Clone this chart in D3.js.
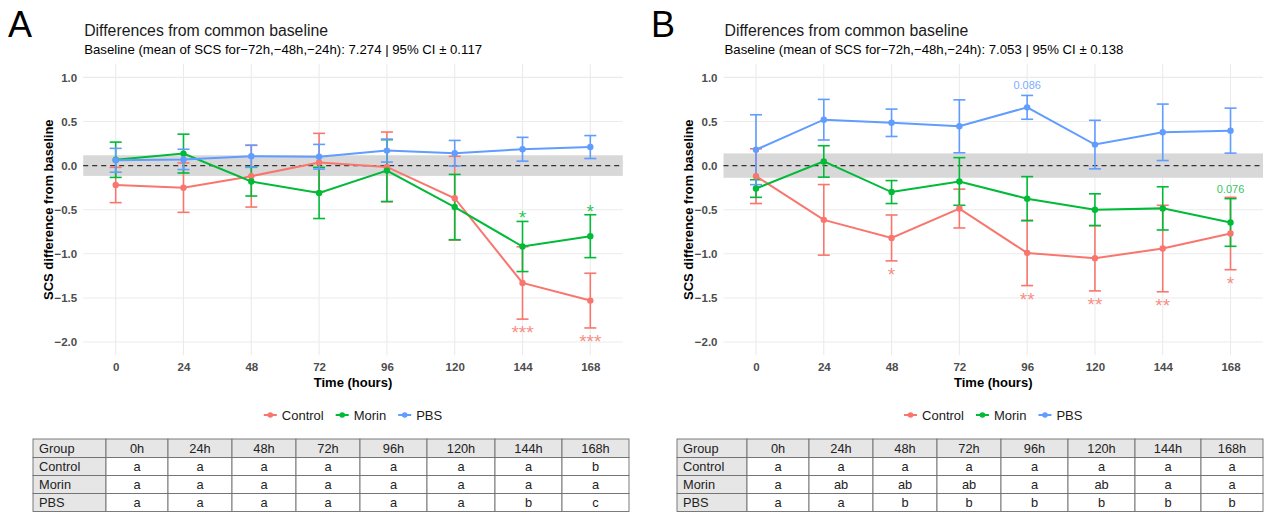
<!DOCTYPE html>
<html>
<head>
<meta charset="utf-8">
<script src="https://cdn.jsdelivr.net/npm/d3@7"></script>
<style>
  html, body { margin: 0; padding: 0; background: #ffffff; }
  svg { display: block; }
</style>
</head>
<body>
<script>
// ---- shared categories ----
const hours = [0, 24, 48, 72, 96, 120, 144, 168];
const groupNames = ["Control", "Morin", "PBS"];
const groupColors = ["#F8766D", "#00BA38", "#619CFF"];
const yTicks = [1.0, 0.5, 0.0, -0.5, -1.0, -1.5, -2.0];

// ---- panel A: mean difference from baseline and 95% CI half-width ----
const controlMeanA = [-0.22, -0.25, -0.12, 0.035, -0.015, -0.37, -1.33, -1.53];
const controlErrA  = [0.20, 0.28, 0.35, 0.33, 0.395, 0.475, 0.41, 0.31];
const morinMeanA   = [0.066, 0.136, -0.18, -0.31, -0.057, -0.47, -0.917, -0.80];
const morinErrA    = [0.20, 0.22, 0.165, 0.29, 0.35, 0.37, 0.284, 0.243];
const pbsMeanA     = [0.06, 0.07, 0.105, 0.10, 0.17, 0.14, 0.185, 0.21];
const pbsErrA      = [0.135, 0.115, 0.125, 0.14, 0.13, 0.145, 0.135, 0.13];
const baselineA = "7.274";
const baselineCIA = 0.117;

// ---- panel B ----
const controlMeanB = [-0.12, -0.615, -0.82, -0.487, -0.99, -1.05, -0.94, -0.77];
const controlErrB  = [0.31, 0.40, 0.26, 0.22, 0.37, 0.37, 0.49, 0.41];
const morinMeanB   = [-0.26, 0.047, -0.30, -0.18, -0.375, -0.50, -0.485, -0.645];
const morinErrB    = [0.10, 0.178, 0.13, 0.27, 0.25, 0.18, 0.245, 0.27];
const pbsMeanB     = [0.18, 0.52, 0.485, 0.445, 0.66, 0.238, 0.377, 0.396];
const pbsErrB      = [0.396, 0.23, 0.155, 0.30, 0.135, 0.275, 0.32, 0.255];
const baselineB = "7.053";
const baselineCIB = 0.138;

// ---- significance marks placed at the end of an error bar ----
const marksA = [
  { group: "Morin",   hour: 144, text: "*",   side: "above" },
  { group: "Morin",   hour: 168, text: "*",   side: "above" },
  { group: "Control", hour: 144, text: "***", side: "below" },
  { group: "Control", hour: 168, text: "***", side: "below" }
];
const marksB = [
  { group: "PBS",     hour: 96,  text: "0.086", side: "above" },
  { group: "Morin",   hour: 168, text: "0.076", side: "above" },
  { group: "Control", hour: 48,  text: "*",  side: "below" },
  { group: "Control", hour: 96,  text: "**", side: "below" },
  { group: "Control", hour: 120, text: "**", side: "below" },
  { group: "Control", hour: 144, text: "**", side: "below" },
  { group: "Control", hour: 168, text: "*",  side: "below" }
];

// ---- letter tables ----
const tableHeader = ["Group", "0h", "24h", "48h", "72h", "96h", "120h", "144h", "168h"];
const lettersControlA = ["a", "a", "a", "a", "a", "a", "a", "b"];
const lettersMorinA   = ["a", "a", "a", "a", "a", "a", "a", "a"];
const lettersPbsA     = ["a", "a", "a", "a", "a", "a", "b", "c"];
const lettersControlB = ["a", "a", "a", "a", "a", "a", "a", "a"];
const lettersMorinB   = ["a", "ab", "ab", "ab", "a", "ab", "a", "a"];
const lettersPbsB     = ["a", "a", "b", "b", "b", "b", "b", "b"];

const W = 1266, H = 513;
const FONT = "'Liberation Sans', Arial, Helvetica, sans-serif";

const svg = d3.select("body").append("svg")
  .attr("width", W).attr("height", H)
  .style("font-family", FONT);

const measureCtx = document.createElement("canvas").getContext("2d");
function measure(str, size) {
  measureCtx.font = `${size}px ${FONT}`;
  return measureCtx.measureText(str).width;
}

function drawPanel(cfg) {
  const g = svg.append("g");
  const x = d3.scaleLinear().domain([-11.5, 179.5]).range(cfg.xRange);
  const y = d3.scaleLinear().domain([-2.15, 1.15]).range([355.3, 64.1]);
  const [x0, x1] = x.range();
  const [yb, yt] = y.range();

  // panel letter, title, subtitle
  g.append("text").attr("x", cfg.letterX).attr("y", 37)
    .attr("font-size", 36).attr("fill", "#000").text(cfg.letter);
  g.append("text").attr("x", x0 + 1).attr("y", 36)
    .attr("font-size", 15.8).attr("fill", "#1a1a1a")
    .text("Differences from common baseline");
  g.append("text").attr("x", x0 + 1).attr("y", 54)
    .attr("font-size", 13.2).attr("fill", "#000")
    .text(`Baseline (mean of SCS for\u221272h,\u221248h,\u221224h): ${cfg.baseline} | 95% CI \u00b1 ${cfg.ci}`);

  // grid
  g.append("g").selectAll("line").data(yTicks).join("line")
    .attr("x1", x0).attr("x2", x1)
    .attr("y1", d => y(d)).attr("y2", d => y(d))
    .attr("stroke", "#EBEBEB").attr("stroke-width", 1.1);
  g.append("g").selectAll("line").data(hours).join("line")
    .attr("x1", d => x(d)).attr("x2", d => x(d))
    .attr("y1", yt).attr("y2", yb)
    .attr("stroke", "#EBEBEB").attr("stroke-width", 1.1);

  // baseline confidence band and reference line
  g.append("rect")
    .attr("x", x0).attr("width", x1 - x0)
    .attr("y", y(cfg.ci)).attr("height", y(-cfg.ci) - y(cfg.ci))
    .attr("fill", "#D6D6D6").attr("opacity", 0.95);
  g.append("line")
    .attr("x1", x0).attr("x2", x1).attr("y1", y(0)).attr("y2", y(0))
    .attr("stroke", "#333").attr("stroke-width", 1.1)
    .attr("stroke-dasharray", "5,4");

  // axes
  const yAxis = g.append("g").attr("transform", `translate(${x0},0)`)
    .call(d3.axisLeft(y).tickValues(yTicks).tickFormat(d3.format(".1f"))
      .tickSize(0).tickPadding(6));
  const xAxis = g.append("g").attr("transform", `translate(0,${yb})`)
    .call(d3.axisBottom(x).tickValues(hours).tickFormat(d3.format("d"))
      .tickSize(0).tickPadding(7.5));
  [yAxis, xAxis].forEach(a => {
    a.select(".domain").remove();
    a.selectAll("text").attr("font-size", 11.5).attr("font-weight", "bold")
      .attr("fill", "#4D4D4D").attr("font-family", FONT);
  });

  g.append("text")
    .attr("transform", `translate(${cfg.yTitleX},${(yt + yb) / 2}) rotate(-90)`)
    .attr("text-anchor", "middle").attr("dominant-baseline", "central")
    .attr("font-size", 13).attr("font-weight", "bold").attr("fill", "#000")
    .text("SCS difference from baseline");
  g.append("text")
    .attr("x", (x0 + x1) / 2).attr("y", 382)
    .attr("text-anchor", "middle").attr("dominant-baseline", "central")
    .attr("font-size", 13).attr("font-weight", "bold").attr("fill", "#000")
    .text("Time (hours)");

  // series
  const series = groupNames.map((name, i) => ({
    name, color: groupColors[i],
    pts: hours.map((h, j) => ({ h, m: cfg.means[i][j], e: cfg.errs[i][j] }))
  }));

  const cap = 6;
  const eb = g.append("g");
  series.forEach(s => {
    const sg = eb.append("g").attr("stroke", s.color).attr("stroke-width", 1.6).attr("fill", "none");
    sg.selectAll(".v").data(s.pts).join("line")
      .attr("x1", d => x(d.h)).attr("x2", d => x(d.h))
      .attr("y1", d => y(d.m + d.e)).attr("y2", d => y(d.m - d.e));
    sg.selectAll(".t").data(s.pts).join("line")
      .attr("x1", d => x(d.h) - cap).attr("x2", d => x(d.h) + cap)
      .attr("y1", d => y(d.m + d.e)).attr("y2", d => y(d.m + d.e));
    sg.selectAll(".b").data(s.pts).join("line")
      .attr("x1", d => x(d.h) - cap).attr("x2", d => x(d.h) + cap)
      .attr("y1", d => y(d.m - d.e)).attr("y2", d => y(d.m - d.e));
  });
  const line = d3.line().x(d => x(d.h)).y(d => y(d.m));
  series.forEach(s => {
    g.append("path").datum(s.pts).attr("d", line)
      .attr("fill", "none").attr("stroke", s.color).attr("stroke-width", 2);
  });
  series.forEach(s => {
    g.append("g").selectAll("circle").data(s.pts).join("circle")
      .attr("cx", d => x(d.h)).attr("cy", d => y(d.m)).attr("r", 3.2)
      .attr("fill", s.color);
  });

  // significance marks
  cfg.marks.forEach(mk => {
    const i = groupNames.indexOf(mk.group);
    const j = hours.indexOf(mk.hour);
    const m = cfg.means[i][j], e = cfg.errs[i][j];
    const isStar = mk.text.startsWith("*");
    let yy;
    if (mk.side === "above") yy = y(m + e) - (isStar ? -3 : 6);
    else yy = y(m - e) + 20;
    g.append("text").attr("x", x(mk.hour)).attr("y", yy)
      .attr("text-anchor", "middle")
      .attr("font-size", isStar ? 19 : 11)
      .attr("fill", groupColors[i]).attr("fill-opacity", 0.85)
      .text(mk.text);
  });

  // legend
  const lg = g.append("g");
  const items = [];
  let cursor = 0;
  groupNames.forEach((name, i) => {
    items.push({ name, color: groupColors[i], x: cursor });
    cursor += 18 + measure(name, 13) + 12;
  });
  const totalW = cursor - 12;
  const lx = (x0 + x1) / 2 - totalW / 2;
  items.forEach(it => {
    const gi = lg.append("g").attr("transform", `translate(${lx + it.x},415)`);
    gi.append("line").attr("x1", 0).attr("x2", 13).attr("y1", 0).attr("y2", 0)
      .attr("stroke", it.color).attr("stroke-width", 2);
    gi.append("circle").attr("cx", 6.5).attr("cy", 0).attr("r", 2.8).attr("fill", it.color);
    gi.append("text").attr("x", 18).attr("y", 0).attr("dominant-baseline", "central")
      .attr("font-size", 13).attr("fill", "#1a1a1a").text(it.name);
  });

  // letter table
  const tg = g.append("g").attr("font-size", 12.8).attr("fill", "#222");
  const cols = cfg.tableCols;
  const rowsY = [439, 457.5, 475.5, 493.5, 511.5];
  const rows = [tableHeader,
    ["Control"].concat(cfg.letters[0]),
    ["Morin"].concat(cfg.letters[1]),
    ["PBS"].concat(cfg.letters[2])];
  rows.forEach((row, r) => {
    row.forEach((cell, c) => {
      const shaded = r === 0 || c === 0;
      tg.append("rect")
        .attr("x", cols[c]).attr("y", rowsY[r])
        .attr("width", cols[c + 1] - cols[c]).attr("height", rowsY[r + 1] - rowsY[r])
        .attr("fill", shaded ? "#E6E6E6" : "#ffffff")
        .attr("stroke", "#6E6E6E").attr("stroke-width", 0.9);
      tg.append("text")
        .attr("x", c === 0 ? cols[c] + 6 : (cols[c] + cols[c + 1]) / 2)
        .attr("y", (rowsY[r] + rowsY[r + 1]) / 2)
        .attr("dominant-baseline", "central")
        .attr("text-anchor", c === 0 ? "start" : "middle")
        .text(cell);
    });
  });
}

drawPanel({
  letter: "A", letterX: 8, xRange: [83.2, 622.8], yTitleX: 48,
  baseline: baselineA, ci: baselineCIA,
  means: [controlMeanA, morinMeanA, pbsMeanA],
  errs: [controlErrA, morinErrA, pbsErrA],
  marks: marksA,
  tableCols: [33, 106, 168, 232, 296, 360, 427, 495, 562, 629],
  letters: [lettersControlA, lettersMorinA, lettersPbsA]
});
drawPanel({
  letter: "B", letterX: 651, xRange: [723.5, 1263], yTitleX: 688,
  baseline: baselineB, ci: baselineCIB,
  means: [controlMeanB, morinMeanB, pbsMeanB],
  errs: [controlErrB, morinErrB, pbsErrB],
  marks: marksB,
  tableCols: [677, 747, 809, 873, 937, 1001, 1068, 1135, 1201, 1263],
  letters: [lettersControlB, lettersMorinB, lettersPbsB]
});
</script>
</body>
</html>
